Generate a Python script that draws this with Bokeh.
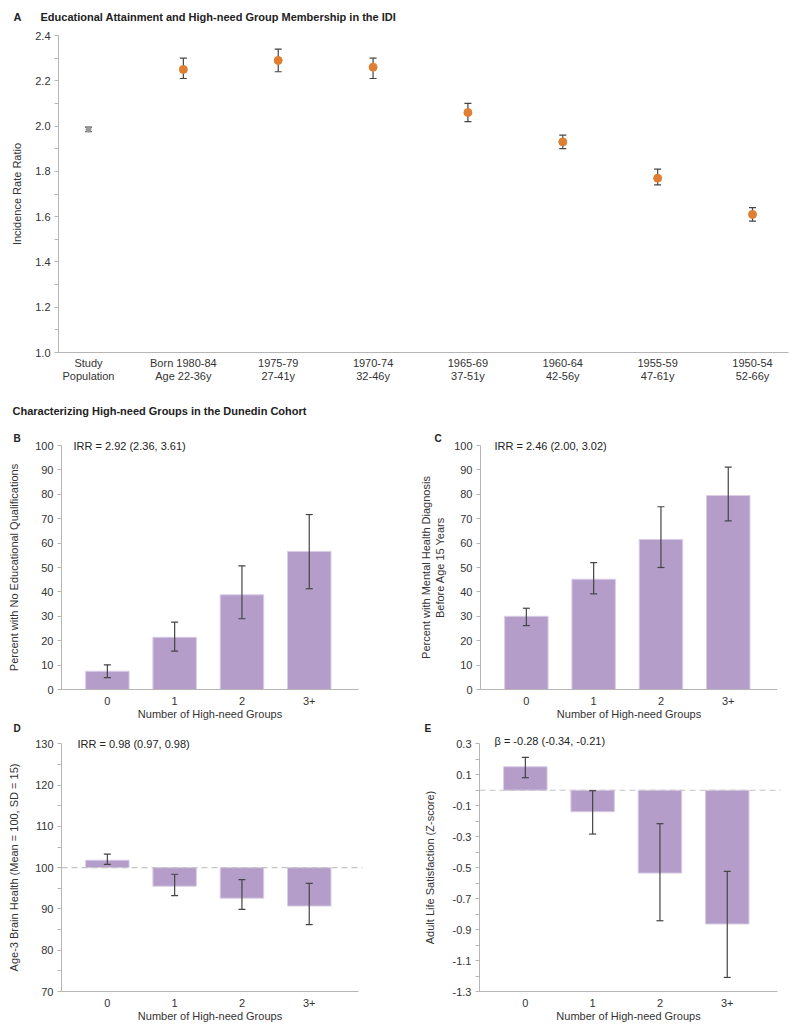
from bokeh.plotting import figure
from bokeh.layouts import column, row
from bokeh.models import (Label, Whisker, TeeHead, ColumnDataSource,
                          FixedTicker, Range1d, PrintfTickFormatter)
from bokeh.embed import file_html
from bokeh.resources import INLINE

FONT = "Liberation Sans"
TXT = "#333333"
AXC = "#b5b5b5"
ERR = "#444444"
BAR = "#b49dc9"
ORANGE = "#e07f31"

# ---------------- data ----------------
a_labels = ["Study\nPopulation", "Born 1980-84\nAge 22-36y", "1975-79\n27-41y", "1970-74\n32-46y",
            "1965-69\n37-51y", "1960-64\n42-56y", "1955-59\n47-61y", "1950-54\n52-66y"]
a_irr = [1.985, 2.25, 2.29, 2.26, 2.06, 1.93, 1.77, 1.61]
a_lo = [1.975, 2.21, 2.24, 2.21, 2.02, 1.90, 1.74, 1.58]
a_hi = [1.995, 2.30, 2.34, 2.30, 2.10, 1.96, 1.81, 1.64]
a_ticks = [1.0, 1.2, 1.4, 1.6, 1.8, 2.0, 2.2, 2.4]
a_minor = [1.1, 1.3, 1.5, 1.7, 1.9, 2.1, 2.3]

groups = ["0", "1", "2", "3+"]
b_val = [7.5, 21.4, 38.8, 56.6]
b_lo = [4.9, 15.7, 29.0, 41.3]
b_hi = [10.1, 27.6, 50.7, 71.7]

c_val = [30.0, 45.2, 61.5, 79.5]
c_lo = [26.2, 39.2, 50.0, 69.1]
c_hi = [33.3, 52.0, 74.9, 91.1]
pct_ticks = [0, 10, 20, 30, 40, 50, 60, 70, 80, 90, 100]

d_val = [101.8, 95.5, 92.6, 90.7]
d_lo = [100.8, 93.2, 89.9, 86.2]
d_hi = [103.3, 98.4, 97.1, 96.2]
d_base = 100
d_ticks = [70, 80, 90, 100, 110, 120, 130]
d_minor = [75, 85, 95, 105, 115, 125]

e_val = [0.152, -0.139, -0.535, -0.864]
e_lo = [0.081, -0.283, -0.843, -1.209]
e_hi = [0.212, -0.003, -0.216, -0.524]
e_base = 0
e_ticks = [-1.3, -1.1, -0.9, -0.7, -0.5, -0.3, -0.1, 0.1, 0.3]
e_minor = [-1.2, -1.0, -0.8, -0.6, -0.4, -0.2, 0.0, 0.2]


def lin(pa, va, pb, vb):
    k = (vb - va) / (pb - pa)
    return lambda px: va + (px - pa) * k


class Canvas:
    """A figure whose frame fills the whole figure; axes are pinned with fixed_location."""

    def __init__(self, left, top, w, h, fx, fy):
        self.left, self.top, self.w, self.h = left, top, w, h
        self.fx, self.fy = fx, fy
        self.p = figure(width=w, height=h, output_backend="svg", toolbar_location=None,
                        x_range=Range1d(fx(left), fx(left + w)),
                        y_range=Range1d(fy(top + h), fy(top)),
                        min_border_left=0, min_border_right=0, min_border_top=0, min_border_bottom=0)
        p = self.p
        p.grid.visible = False
        p.outline_line_color = None
        for ax in (p.xaxis[0], p.yaxis[0]):
            ax.axis_line_color = AXC
            ax.major_tick_line_color = AXC
            ax.minor_tick_line_color = AXC
            ax.major_tick_out = 4
            ax.major_tick_in = 0
            ax.minor_tick_out = 4
            ax.minor_tick_in = 0
            ax.major_label_text_font = FONT
            ax.major_label_text_font_size = "11px"
            ax.major_label_text_color = TXT
            ax.axis_label_text_font = FONT
            ax.axis_label_text_font_size = "11px"
            ax.axis_label_text_font_style = "normal"
            ax.axis_label_text_color = TXT
        p.xaxis.major_tick_line_color = None
        p.xaxis.minor_tick_line_color = None

    def axes(self, ax_px, ay_px, right_px, top_px):
        p = self.p
        x0 = self.fx(ax_px)
        y0 = self.fy(ay_px)
        p.yaxis.fixed_location = x0
        p.yaxis.bounds = (y0, self.fy(top_px))
        p.xaxis.fixed_location = y0
        p.xaxis.bounds = (x0, self.fx(right_px))

    def text(self, px, py, s, bold=False, size="11px"):
        self.p.add_layout(Label(x=px - self.left, y=self.top + self.h - py,
                                x_units="screen", y_units="screen", text=s,
                                text_font=FONT, text_font_size=size, text_color="#222222",
                                text_font_style="bold" if bold else "normal",
                                text_align="left", text_baseline="middle"))


def whisker(src, level):
    return Whisker(source=src, base="x", lower="lo", upper="hi", line_color=ERR, line_width=1.2,
                   upper_head=TeeHead(size=7, line_color=ERR, line_width=1.2),
                   lower_head=TeeHead(size=7, line_color=ERR, line_width=1.2), level=level)


# ---------------- panel A ----------------
cA = Canvas(0, 0, 800, 425, lin(88, 0, 752, len(a_labels) - 1), lin(35, a_ticks[-1], 352, a_ticks[0]))
cA.axes(58, 352, 788, 35)
pA = cA.p
xa = list(range(len(a_labels)))
srcA = ColumnDataSource(dict(x=xa, y=a_irr, lo=a_lo, hi=a_hi,
                             c=["#9a9a9a"] + [ORANGE] * (len(xa) - 1),
                             s=[5] + [8] * (len(xa) - 1)))
pA.add_layout(whisker(srcA, "underlay"))
pA.scatter("x", "y", source=srcA, size="s", fill_color="c", line_color="c")
pA.xaxis.ticker = FixedTicker(ticks=xa)
pA.xaxis.major_label_overrides = {i: t for i, t in enumerate(a_labels)}
pA.xaxis.major_label_standoff = 0
pA.xaxis.major_label_text_line_height = 1.1
pA.yaxis.ticker = FixedTicker(ticks=a_ticks, minor_ticks=a_minor)
pA.yaxis.formatter = PrintfTickFormatter(format="%.1f")
pA.yaxis.axis_label = "Incidence Rate Ratio"
pA.yaxis.axis_label_standoff = 9
pA.yaxis.major_label_standoff = 4
cA.text(13, 16, "A", bold=True)
cA.text(40, 16, "Educational Attainment and High-need Group Membership in the IDI", bold=True)
cA.text(12, 410, "Characterizing High-need Groups in the Dunedin Cohort", bold=True)


# ---------------- bar panels ----------------
def bar_panel(left, top, h, axis_px, right_px, ytop_px, ybot_px, vtop, vbot,
              vals, lo, hi, base, ticks, minor, fmt, ylabel, label_standoff,
              note, note_xy, letter, letter_xy, dash_end=None):
    fx = lin(axis_px + 45.85, 0, axis_px + 45.85 + 67.3 * 3, 3)
    fy = lin(ytop_px, vtop, ybot_px, vbot)
    c = Canvas(left, top, 400, h, fx, fy)
    c.axes(axis_px, ybot_px, right_px, ytop_px)
    p = c.p
    xs = list(range(len(groups)))
    src = ColumnDataSource(dict(x=xs, top=vals, lo=lo, hi=hi, b=[base] * len(xs)))
    p.vbar(x="x", top="top", bottom="b", width=0.646, source=src,
           fill_color=BAR, line_color="#d9cde6", line_width=1)
    if dash_end is not None:
        p.segment(x0=[fx(axis_px)], x1=[fx(dash_end)], y0=[base], y1=[base],
                  line_color="#c4c4c4", line_dash="6 4", line_width=1.2)
    p.add_layout(whisker(src, "overlay"))
    p.xaxis.ticker = FixedTicker(ticks=xs)
    p.xaxis.major_label_overrides = {i: g for i, g in enumerate(groups)}
    p.xaxis.major_label_standoff = 3
    p.xaxis.axis_label = "Number of High-need Groups"
    p.xaxis.axis_label_standoff = 0
    p.yaxis.ticker = FixedTicker(ticks=ticks, minor_ticks=minor)
    p.yaxis.formatter = PrintfTickFormatter(format=fmt)
    p.yaxis.axis_label = ylabel
    p.yaxis.axis_label_standoff = label_standoff
    p.yaxis.major_label_standoff = 4
    c.text(note_xy[0], note_xy[1], note)
    c.text(letter_xy[0], letter_xy[1], letter, bold=True, size="10px")
    return p


pB = bar_panel(0, 425, 297, 61, 358, 445, 689, pct_ticks[-1], pct_ticks[0],
               b_val, b_lo, b_hi, 0, pct_ticks, [], "%d",
               "Percent with No Educational Qualifications", 12,
               "IRR = 2.92 (2.36, 3.61)", (73, 445), "B", (13, 438))
pC = bar_panel(400, 425, 297, 480, 777, 445, 689, pct_ticks[-1], pct_ticks[0],
               c_val, c_lo, c_hi, 0, pct_ticks, [], "%d",
               "Percent with Mental Health Diagnosis\nBefore Age 15 Years", 5,
               "IRR = 2.46 (2.00, 3.02)", (494, 445), "C", (434, 438))
pD = bar_panel(0, 722, 308, 61, 358, 743.3, 991, d_ticks[-1], d_ticks[0],
               d_val, d_lo, d_hi, d_base, d_ticks, d_minor, "%d",
               "Age-3 Brain Health (Mean = 100, SD = 15)", 12,
               "IRR = 0.98 (0.97, 0.98)", (77, 743), "D", (13, 728), dash_end=362)
pE = bar_panel(400, 722, 308, 479, 777, 743.3, 991, e_ticks[-1], e_ticks[0],
               e_val, e_lo, e_hi, e_base, e_ticks, e_minor, "%.1f",
               "Adult Life Satisfaction (Z-score)", 14,
               "\u03b2 = -0.28 (-0.34, -0.21)", (494, 740), "E", (424, 728), dash_end=780)

layout = column(pA, row(pB, pC), row(pD, pE))
open("out.html", "w").write(file_html(layout, INLINE))
